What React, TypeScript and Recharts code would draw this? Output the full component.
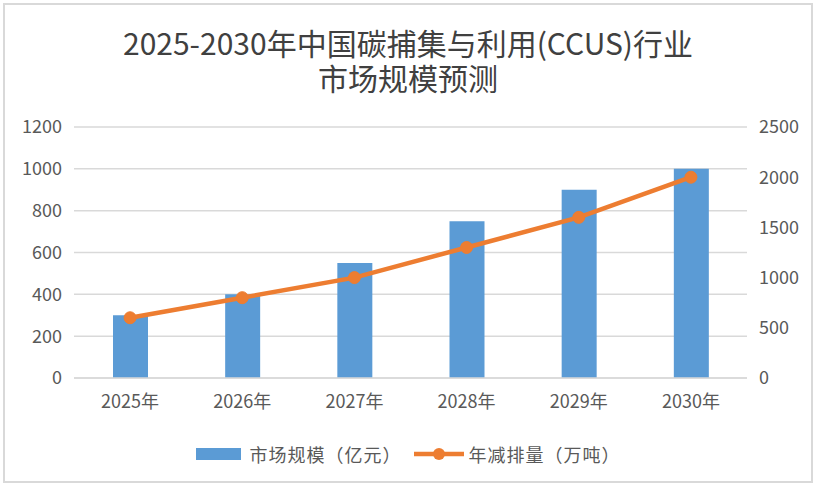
import React from 'react';
import { ComposedChart, Bar, Line, XAxis, YAxis, CartesianGrid } from 'recharts';

const years = ['2025年', '2026年', '2027年', '2028年', '2029年', '2030年'];
const marketSize = [300, 400, 550, 750, 900, 1000];
const reduction = [600, 800, 1000, 1300, 1600, 2000];
const leftTicks = [0, 200, 400, 600, 800, 1000, 1200];
const rightTicks = [0, 500, 1000, 1500, 2000, 2500];

const titleLines = ['2025-2030年中国碳捕集与利用(CCUS)行业', '市场规模预测'];
const sizeLabel = '市场规模（亿元）';
const reductionLabel = '年减排量（万吨）';

const data = years.map((year, i) => ({ year, size: marketSize[i], cut: reduction[i] }));

const FONT = '"Noto Sans CJK SC", "Noto Sans", sans-serif';
const tickStyle = { fontSize: 18, fill: '#595959', fontFamily: FONT };

export default function App() {
  return (
    <div style={{ position: 'fixed', left: 0, top: 0, width: 819, height: 487, background: '#fff', fontFamily: FONT }}>
      <div
        style={{
          position: 'absolute',
          left: 3,
          top: 3,
          width: 806,
          height: 476,
          border: '2px solid #d9d9d9',
          background: '#fff',
        }}
      >
        {titleLines.map((t, i) => (
          <div
            key={t}
            style={{
              position: 'absolute',
              left: 0,
              top: 21 + i * 35,
              width: '100%',
              textAlign: 'center',
              fontSize: 30,
              lineHeight: '32px',
              color: '#404040',
            }}
          >
            {t}
          </div>
        ))}
        <ComposedChart
          width={806}
          height={476}
          data={data}
          margin={{ top: 122, right: 10, bottom: 73, left: 9 }}
          style={{ position: 'absolute', left: 0, top: 0 }}
        >
          <CartesianGrid vertical={false} stroke="#d9d9d9" strokeWidth={1.5} yAxisId="left" />
          <XAxis
            dataKey="year"
            axisLine={{ stroke: '#d9d9d9', strokeWidth: 1.5 }}
            tickLine={false}
            tickSize={0}
            tickMargin={17}
            height={30}
            tick={tickStyle}
          />
          <YAxis
            yAxisId="left"
            domain={[0, 1200]}
            ticks={leftTicks}
            axisLine={false}
            tickLine={false}
            tickSize={0}
            tickMargin={12}
            width={60}
            tick={tickStyle}
          />
          <YAxis
            yAxisId="right"
            orientation="right"
            domain={[0, 2500]}
            ticks={rightTicks}
            axisLine={false}
            tickLine={false}
            tickSize={0}
            tickMargin={12}
            width={54}
            tick={tickStyle}
          />
          <Bar yAxisId="left" dataKey="size" name={sizeLabel} fill="#5b9bd5" barSize={35} isAnimationActive={false} />
          <Line
            yAxisId="right"
            dataKey="cut"
            name={reductionLabel}
            stroke="#ed7d31"
            strokeWidth={4.5}
            dot={{ r: 6, fill: '#ed7d31', stroke: '#ed7d31', strokeWidth: 1 }}
            isAnimationActive={false}
          />
        </ComposedChart>
        <div
          style={{
            position: 'absolute',
            left: 0,
            top: 436,
            width: '100%',
            display: 'flex',
            justifyContent: 'center',
            alignItems: 'center',
            fontSize: 18,
            letterSpacing: 1,
            color: '#595959',
          }}
        >
          <span style={{ display: 'inline-block', width: 45, height: 12, background: '#5b9bd5', marginRight: 9 }} />
          <span>{sizeLabel}</span>
          <svg width={50} height={14} style={{ margin: '0 5px 0 12px' }}>
            <line x1={0} y1={7} x2={50} y2={7} stroke="#ed7d31" strokeWidth={4.5} />
            <circle cx={25} cy={7} r={6} fill="#ed7d31" />
          </svg>
          <span>{reductionLabel}</span>
        </div>
      </div>
    </div>
  );
}
